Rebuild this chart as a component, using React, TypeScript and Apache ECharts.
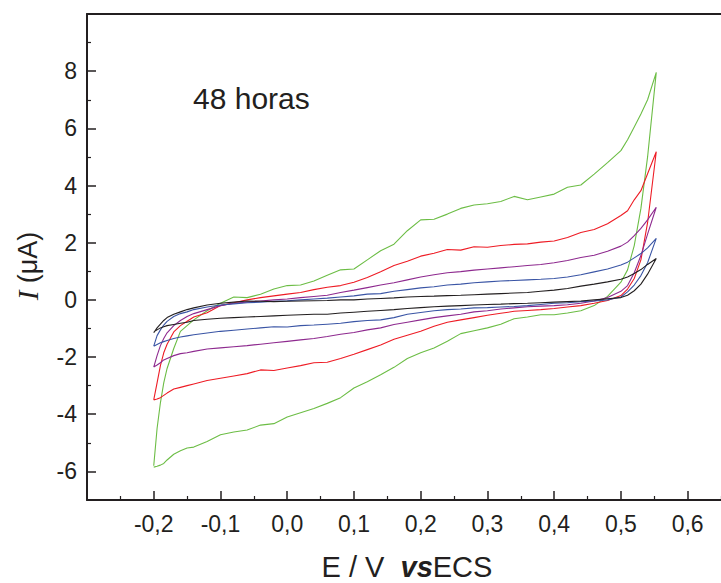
import React, { useEffect, useRef } from "react";
import * as echarts from "echarts";

// Potential grid (V vs ECS) shared by all sweeps
const E_GRID = [
  -0.2, -0.195, -0.19, -0.185, -0.18, -0.17, -0.16, -0.15,
  -0.14, -0.12, -0.1, -0.08, -0.06, -0.04, -0.02, 0, 0.02, 0.04, 0.06, 0.08,
  0.1, 0.12, 0.14, 0.16, 0.18, 0.2, 0.22, 0.24, 0.26, 0.28, 0.3, 0.32, 0.34,
  0.36, 0.38, 0.4, 0.42, 0.44, 0.46, 0.48, 0.5,
  0.51, 0.52, 0.53, 0.54, 0.553,
];

// forward (anodic) branches, current in µA
const GREEN_UP = [
  -5.8, -4.5, -3.6, -2.9, -2.4, -1.7, -1.1, -0.9,
  -0.7, -0.38, -0.12, 0.1, 0.08, 0.2, 0.38, 0.5, 0.52, 0.66, 0.86, 1.05,
  1.08, 1.4, 1.72, 1.95, 2.42, 2.8, 2.82, 3.0, 3.2, 3.32, 3.36, 3.44, 3.62,
  3.5, 3.6, 3.7, 3.94, 4.02, 4.4, 4.8, 5.22,
  5.6, 6.05, 6.5, 7.0, 7.96,
];
const GREEN_DOWN = [
  -5.85, -5.82, -5.78, -5.72, -5.6, -5.4, -5.28, -5.18,
  -5.15, -4.95, -4.72, -4.62, -4.55, -4.38, -4.33, -4.1, -3.95, -3.8, -3.62, -3.42,
  -3.08, -2.86, -2.62, -2.36, -2.05, -1.85, -1.68, -1.45, -1.18, -1.08, -0.98, -0.85, -0.66,
  -0.6, -0.52, -0.52, -0.46, -0.38, -0.2, 0.12, 0.62,
  1.05, 1.9, 3.2, 5.0, 7.96,
];
const RED_UP = [
  -3.5, -2.9, -2.3, -1.85, -1.55, -1.12, -0.9, -0.75,
  -0.6, -0.45, -0.2, -0.1, 0.0, 0.08, 0.14, 0.2, 0.26, 0.36, 0.44, 0.5,
  0.62, 0.78, 0.98, 1.2, 1.35, 1.53, 1.63, 1.76, 1.74, 1.86, 1.84, 1.9, 1.94,
  1.96, 2.02, 2.06, 2.18, 2.36, 2.46, 2.66, 2.95,
  3.12, 3.5, 3.82, 4.41, 5.18,
];
const RED_DOWN = [
  -3.5, -3.47, -3.42, -3.34, -3.26, -3.12, -3.06, -3.0,
  -2.94, -2.82, -2.74, -2.66, -2.58, -2.45, -2.47, -2.38, -2.3, -2.2, -2.18, -2.05,
  -1.9, -1.74, -1.58, -1.38, -1.24, -1.1, -0.92, -0.78, -0.7, -0.62, -0.54, -0.47, -0.4,
  -0.37, -0.34, -0.3, -0.25, -0.2, -0.12, -0.02, 0.15,
  0.38, 0.75, 1.4, 2.7, 5.18,
];
const PURPLE_UP = [
  -2.35, -1.95, -1.6, -1.35, -1.15, -0.9, -0.72, -0.58,
  -0.48, -0.34, -0.2, -0.12, -0.08, -0.04, 0.0, 0.03, 0.08, 0.12, 0.16, 0.26,
  0.34, 0.43, 0.52, 0.6, 0.7, 0.8, 0.88, 0.95, 0.99, 1.04, 1.08, 1.12, 1.16,
  1.2, 1.24, 1.3, 1.38, 1.48, 1.56, 1.7, 1.88,
  2.02, 2.25, 2.5, 2.8, 3.24,
];
const PURPLE_DOWN = [
  -2.35, -2.28, -2.2, -2.1, -2.05, -1.95, -1.88, -1.85,
  -1.8, -1.72, -1.68, -1.64, -1.6, -1.55, -1.5, -1.45, -1.4, -1.35, -1.28, -1.2,
  -1.14, -1.05, -0.98, -0.86, -0.78, -0.7, -0.62, -0.56, -0.5, -0.42, -0.38, -0.32, -0.28,
  -0.24, -0.22, -0.2, -0.17, -0.12, -0.04, 0.08, 0.3,
  0.5, 0.95, 1.55, 2.3, 3.24,
];
const BLUE_UP = [
  -1.62, -1.25, -1.05, -0.88, -0.75, -0.58, -0.48, -0.42,
  -0.34, -0.25, -0.18, -0.14, -0.1, -0.08, -0.05, -0.03, 0.0, 0.03, 0.06, 0.1,
  0.14, 0.2, 0.22, 0.3, 0.36, 0.42, 0.46, 0.52, 0.55, 0.6, 0.63, 0.66, 0.68,
  0.7, 0.72, 0.75, 0.8, 0.88, 0.98, 1.08, 1.22,
  1.32, 1.47, 1.62, 1.82, 2.15,
];
const BLUE_DOWN = [
  -1.62, -1.56, -1.5, -1.46, -1.42, -1.35, -1.3, -1.26,
  -1.22, -1.16, -1.1, -1.06, -1.02, -0.98, -0.94, -0.95, -0.9, -0.88, -0.85, -0.82,
  -0.76, -0.72, -0.7, -0.62, -0.5, -0.44, -0.38, -0.34, -0.32, -0.28, -0.27, -0.25, -0.23,
  -0.2, -0.16, -0.12, -0.1, -0.06, -0.04, 0.0, 0.1,
  0.28, 0.52, 0.85, 1.3, 2.15,
];
const BLACK_UP = [
  -1.15, -0.98, -0.85, -0.72, -0.62, -0.5, -0.42, -0.34,
  -0.28, -0.18, -0.12, -0.08, -0.04, -0.05, -0.06, -0.05, -0.04, -0.03, -0.02, 0.0,
  0.0, 0.03, 0.05, 0.07, 0.1, 0.12, 0.13, 0.15, 0.16, 0.18, 0.2, 0.22, 0.24,
  0.26, 0.3, 0.34, 0.4, 0.48, 0.55, 0.63, 0.72,
  0.8, 0.92, 1.06, 1.24, 1.45,
];
const BLACK_DOWN = [
  -1.12, -1.05, -0.98, -0.94, -0.9, -0.86, -0.82, -0.78,
  -0.72, -0.68, -0.64, -0.62, -0.6, -0.58, -0.56, -0.54, -0.52, -0.5, -0.5, -0.46,
  -0.43, -0.4, -0.37, -0.34, -0.3, -0.27, -0.24, -0.22, -0.2, -0.18, -0.16, -0.15, -0.13,
  -0.12, -0.1, -0.08, -0.06, -0.04, 0.0, 0.04, 0.08,
  0.16, 0.32, 0.55, 0.9, 1.45,
];

const X_MAJOR = [-0.2, -0.1, 0, 0.1, 0.2, 0.3, 0.4, 0.5, 0.6];
const X_MINOR = [-0.25, -0.15, -0.05, 0.05, 0.15, 0.25, 0.35, 0.45, 0.55, 0.65];
const Y_MAJOR = [-6, -4, -2, 0, 2, 4, 6, 8];
const Y_MINOR = [-5, -3, -1, 1, 3, 5, 7, 9];

const SWEEPS = [
  { name: "green", color: "#6cbd45", up: GREEN_UP, down: GREEN_DOWN },
  { name: "red", color: "#ee1c25", up: RED_UP, down: RED_DOWN },
  { name: "purple", color: "#8e2a8f", up: PURPLE_UP, down: PURPLE_DOWN },
  { name: "blue", color: "#3a55a5", up: BLUE_UP, down: BLUE_DOWN },
  { name: "black", color: "#231f20", up: BLACK_UP, down: BLACK_DOWN },
];

const INK = "#231f20";
const FONT = "Liberation Sans, Arial, Helvetica, sans-serif";

export default function App() {
  const ref = useRef<HTMLDivElement>(null);

  useEffect(() => {
    if (!ref.current) return;
    const chart = echarts.init(ref.current, undefined, { renderer: "svg" });

    const loop = (up: number[], down: number[]) => {
      const fwd = up.map((v, i) => [E_GRID[i], v]);
      const rev = down.map((v, i) => [E_GRID[i], v]).reverse();
      return [...fwd, ...rev];
    };

    const fmt = (v: number) => v.toFixed(1).replace(".", ",").replace("-0,0", "0,0");

    const baseX = {
      type: "value" as const,
      min: -0.3,
      max: 0.65,
      splitLine: { show: false },
    };
    const baseY = {
      type: "value" as const,
      min: -7,
      max: 10,
      splitLine: { show: false },
    };

    chart.setOption({
      animation: false,
      backgroundColor: "#ffffff",
      grid: { left: 87, top: 14, right: -7, bottom: 83, containLabel: false },
      xAxis: [
        {
          ...baseX,
          position: "bottom",
          axisLine: { show: true, onZero: false, lineStyle: { color: INK, width: 2 } },
          axisTick: {
            show: true,
            inside: true,
            length: 9,
            customValues: X_MAJOR,
            lineStyle: { color: INK, width: 1.5 },
          },
          axisLabel: {
            show: true,
            customValues: X_MAJOR,
            formatter: fmt,
            margin: 12,
            color: INK,
            fontSize: 23,
            fontFamily: FONT,
          },
        },
        {
          ...baseX,
          position: "bottom",
          axisLine: { show: false, onZero: false },
          axisTick: {
            show: true,
            inside: true,
            length: 4,
            customValues: X_MINOR,
            lineStyle: { color: INK, width: 1.2 },
          },
          axisLabel: { show: false },
        },
        {
          ...baseX,
          position: "top",
          axisLine: { show: true, onZero: false, lineStyle: { color: INK, width: 2 } },
          axisTick: { show: false },
          axisLabel: { show: false },
        },
      ],
      yAxis: [
        {
          ...baseY,
          position: "left",
          axisLine: { show: true, onZero: false, lineStyle: { color: INK, width: 2 } },
          axisTick: {
            show: true,
            inside: true,
            length: 9,
            customValues: Y_MAJOR,
            lineStyle: { color: INK, width: 1.5 },
          },
          axisLabel: {
            show: true,
            customValues: Y_MAJOR,
            margin: 10,
            color: INK,
            fontSize: 23,
            fontFamily: FONT,
          },
        },
        {
          ...baseY,
          position: "left",
          axisLine: { show: false, onZero: false },
          axisTick: {
            show: true,
            inside: true,
            length: 4,
            customValues: Y_MINOR,
            lineStyle: { color: INK, width: 1.2 },
          },
          axisLabel: { show: false },
        },
      ],
      series: SWEEPS.map((s) => ({
        name: s.name,
        type: "line",
        xAxisIndex: 0,
        yAxisIndex: 0,
        data: loop(s.up, s.down),
        showSymbol: false,
        symbol: "none",
        lineStyle: { color: s.color, width: 1.1 },
        itemStyle: { color: s.color },
        silent: true,
      })),
      graphic: [
        {
          type: "text",
          x: 193,
          y: 98,
          style: {
            text: "48 horas",
            fill: INK,
            fontSize: 30,
            fontFamily: FONT,
            textAlign: "left",
            textVerticalAlign: "middle",
          },
        },
        {
          type: "text",
          x: 407,
          y: 567,
          style: {
            text: "E / V  {vs|vs}ECS",
            fill: INK,
            fontSize: 29,
            fontFamily: FONT,
            textAlign: "center",
            textVerticalAlign: "middle",
            rich: {
              vs: {
                fontSize: 29,
                fontFamily: FONT,
                fontWeight: "bold",
                fontStyle: "italic",
                fill: INK,
              },
            },
          },
        },
        {
          type: "text",
          x: 28,
          y: 266,
          rotation: Math.PI / 2,
          style: {
            text: "{i|I} (μA)",
            fill: INK,
            fontSize: 27,
            fontFamily: FONT,
            textAlign: "center",
            textVerticalAlign: "middle",
            rich: {
              i: {
                fontSize: 29,
                fontFamily: "Liberation Serif, Times New Roman, serif",
                fontStyle: "italic",
                fill: INK,
              },
            },
          },
        },
      ],
    });

    return () => chart.dispose();
  }, []);

  return (
    <div
      ref={ref}
      style={{ position: "absolute", left: 0, top: 0, width: 721, height: 583, background: "#fff" }}
    />
  );
}
